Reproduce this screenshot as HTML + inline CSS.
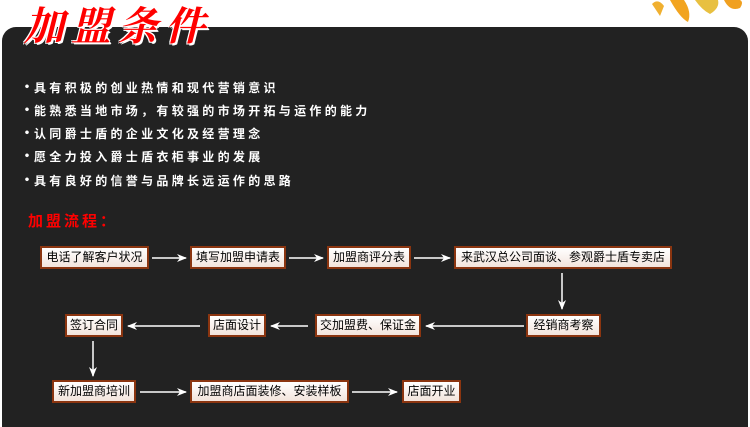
<!DOCTYPE html>
<html><head><meta charset="utf-8"><style>
body{margin:0;width:750px;height:419px;background:#fff;position:relative;overflow:hidden;font-family:"Liberation Sans","Noto Sans CJK SC",sans-serif}
.panel{position:absolute;left:2px;top:27px;width:746px;height:400px;background:#222;border-radius:14px 14px 0 0}
.title{position:absolute;left:24px;top:2px;font-size:40px;font-style:italic;font-weight:bold;color:#f00;letter-spacing:7px;font-family:"Noto Serif CJK SC","WenQuanYi Zen Hei",serif;text-shadow:1px 1px 0 #fff,-1px -1px 0 #fff,1px -1px 0 #fff,-1px 1px 0 #fff,2px 2px 0 #fff;line-height:44px}
.leaf{position:absolute;left:640px;top:0;width:110px;height:26px}
.b{position:absolute;left:20px;color:#fff;font-size:12px;letter-spacing:3.3px;line-height:14px;font-weight:bold;font-family:"WenQuanYi Zen Hei","Noto Sans CJK SC",sans-serif}
.b span{display:inline-block;width:14px;font-size:14px;letter-spacing:0}
.sub{position:absolute;left:28px;top:210px;color:#f00;font-size:15px;font-weight:bold;letter-spacing:3px}
.n{position:absolute;box-sizing:border-box;height:23px;border:2px solid #8b3510;background:linear-gradient(#fff,#f3e4dc);font-size:12px;line-height:19px;text-align:center;color:#000;white-space:nowrap}
svg{position:absolute;left:0;top:0}
</style></head><body>
<div class="panel"></div>
<div class="leaf"><svg width="110" height="26"><path d="M12 4 Q18 -2 24 6 L20 16 Z" fill="#f0b030"/><path d="M30 0 Q40 18 48 22 Q52 12 44 0Z" fill="#f2a420"/><path d="M55 0 Q62 10 70 14 Q80 8 78 0Z" fill="#e8c040"/><path d="M84 0 Q90 12 100 8 Q104 2 100 0Z" fill="#f0a020"/></svg></div>
<div class="title">加盟条件</div>
<div class="b" style="top:80px"><span>•</span>具有积极的创业热情和现代营销意识</div>
<div class="b" style="top:103px"><span>•</span>能熟悉当地市场，有较强的市场开拓与运作的能力</div>
<div class="b" style="top:126px"><span>•</span>认同爵士盾的企业文化及经营理念</div>
<div class="b" style="top:149px"><span>•</span>愿全力投入爵士盾衣柜事业的发展</div>
<div class="b" style="top:173px"><span>•</span>具有良好的信誉与品牌长远运作的思路</div>
<div class="sub">加盟流程：</div>
<div class="n" style="left:40px;top:246px;width:109px">电话了解客户状况</div>
<div class="n" style="left:190px;top:246px;width:96px">填写加盟申请表</div>
<div class="n" style="left:327px;top:246px;width:84px">加盟商评分表</div>
<div class="n" style="left:454px;top:246px;width:218px">来武汉总公司面谈、参观爵士盾专卖店</div>
<div class="n" style="left:526px;top:314px;width:75px">经销商考察</div>
<div class="n" style="left:315px;top:314px;width:106px">交加盟费、保证金</div>
<div class="n" style="left:208px;top:314px;width:58px">店面设计</div>
<div class="n" style="left:65px;top:314px;width:58px">签订合同</div>
<div class="n" style="left:52px;top:380px;width:84px">新加盟商培训</div>
<div class="n" style="left:190px;top:380px;width:159px">加盟商店面装修、安装样板</div>
<div class="n" style="left:402px;top:380px;width:59px">店面开业</div>
<svg width="750" height="419">
<defs><marker id="a" markerWidth="10" markerHeight="8" refX="9" refY="4" orient="auto" markerUnits="userSpaceOnUse"><path d="M0 0 L10 4 L0 8 L3 4Z" fill="#fff"/></marker></defs>
<g stroke="#fff" stroke-width="1.5" marker-end="url(#a)">
<line x1="152" y1="258" x2="186" y2="258"/>
<line x1="289" y1="258" x2="323" y2="258"/>
<line x1="414" y1="258" x2="450" y2="258"/>
<line x1="562" y1="273" x2="562" y2="309"/>
<line x1="524" y1="326" x2="426" y2="326"/>
<line x1="308" y1="326" x2="271" y2="326"/>
<line x1="200" y1="326" x2="128" y2="326"/>
<line x1="93" y1="341" x2="93" y2="376"/>
<line x1="140" y1="392" x2="186" y2="392"/>
<line x1="352" y1="392" x2="397" y2="392"/>
</g></svg>
</body></html>
